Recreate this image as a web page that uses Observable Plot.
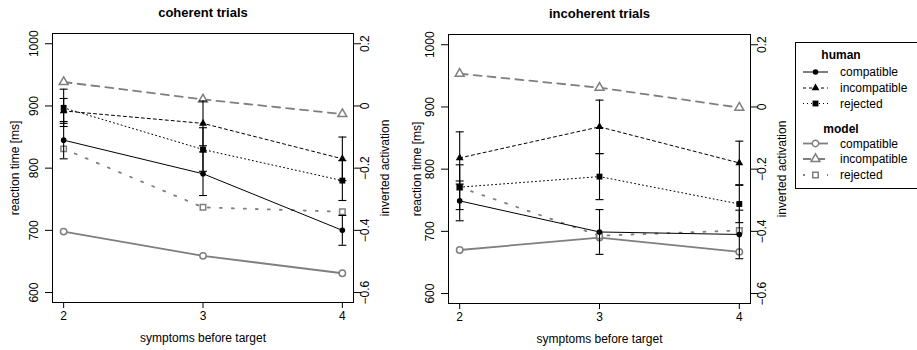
<!DOCTYPE html>
<html><head><meta charset="utf-8">
<script src="https://cdn.jsdelivr.net/npm/d3@7"></script>
<script src="https://cdn.jsdelivr.net/npm/@observablehq/plot@0.6"></script>
<style>
body{margin:0;background:#fff;}
#chart{position:relative;width:917px;height:350px;overflow:hidden;font-family:"Liberation Sans",Arial,Helvetica,sans-serif;}
#chart > svg{position:absolute;top:0;}
</style></head><body><div id="chart"></div>
<script>
// ---------- data ----------
const symptoms = [2, 3, 4];
const conditions = ["compatible", "incompatible", "rejected"];
const panelTitles = ["coherent trials", "incoherent trials"];
const rtTicks = [600, 700, 800, 900, 1000];
const actTicks = [-0.6, -0.4, -0.2, 0, 0.2];

// human reaction times [ms] and error half-widths, coherent trials
const cohHumanCompatible   = [845, 791, 700];
const cohHumanIncompatible = [892, 872, 815];
const cohHumanRejected     = [897, 830, 780];
const cohErrCompatible     = [30, 35, 24];
const cohErrIncompatible   = [20, 36, 35];
const cohErrRejected       = [30, 35, 32];
// model inverted activation, coherent trials
const cohModelCompatible   = [-0.404, -0.482, -0.538];
const cohModelIncompatible = [0.077, 0.021, -0.026];
const cohModelRejected     = [-0.138, -0.326, -0.340];

// incoherent trials
const incHumanCompatible   = [749, 699, 695];
const incHumanIncompatible = [818, 868, 810];
const incHumanRejected     = [771, 788, 744];
const incErrCompatible     = [32, 36, 39];
const incErrIncompatible   = [42, 43, 35];
const incErrRejected       = [36, 37, 30];
const incModelCompatible   = [-0.460, -0.420, -0.466];
const incModelIncompatible = [0.107, 0.062, -0.002];
const incModelRejected     = [-0.258, -0.414, -0.397];

// ---------- styles ----------
const GRAY = "#7f7f7f";
const humanStyle = [
  {dash: null, symbol: "circle", r: 2.8},
  {dash: "3,3", symbol: "triangle", r: 2.9},
  {dash: "1,3", symbol: "square", r: 3.3}
];
const modelStyle = [
  {dash: null, symbol: "circle", r: 3.2},
  {dash: "8,6", symbol: "triangle", r: 3.3},
  {dash: "2,10", symbol: "square", r: 3.1}
];

// secondary axis: inverted activation -> reaction-time scale
const act2rt = d3.scaleLinear().domain([-0.6, 0.2]).range([600, 1000]);
const fmtAct = a => a === 0 ? "0" : (a < 0 ? "\u2212" : "") + Math.abs(a).toFixed(1);

const capSymbol = {draw(ctx, size) { const w = Math.sqrt(size / Math.PI); ctx.moveTo(-w, 0); ctx.lineTo(w, 0); }};

function panel(cfg) {
  const marks = [Plot.frame({stroke: "black", strokeWidth: 1})];
  // model lines + markers
  cfg.model.forEach((vals, i) => {
    const data = symptoms.map((s, j) => ({s, v: act2rt(vals[j])}));
    marks.push(Plot.line(data, {x: "s", y: "v", stroke: GRAY, strokeWidth: 1.8, strokeDasharray: modelStyle[i].dash}));
  });
  cfg.model.forEach((vals, i) => {
    const data = symptoms.map((s, j) => ({s, v: act2rt(vals[j])}));
    marks.push(Plot.dot(data, {x: "s", y: "v", symbol: modelStyle[i].symbol, r: modelStyle[i].r, fill: "white", stroke: GRAY, strokeWidth: 1.5}));
  });
  // human lines
  cfg.human.forEach((vals, i) => {
    const data = symptoms.map((s, j) => ({s, v: vals[j]}));
    marks.push(Plot.line(data, {x: "s", y: "v", stroke: "black", strokeWidth: 1, strokeDasharray: humanStyle[i].dash}));
  });
  // error bars
  cfg.human.forEach((vals, i) => {
    const data = symptoms.map((s, j) => ({s, lo: vals[j] - cfg.err[i][j], hi: vals[j] + cfg.err[i][j]}));
    marks.push(Plot.ruleX(data, {x: "s", y1: "lo", y2: "hi", stroke: "black", strokeWidth: 1.1}));
    const caps = data.flatMap(d => [{s: d.s, v: d.lo}, {s: d.s, v: d.hi}]);
    marks.push(Plot.dot(caps, {x: "s", y: "v", symbol: capSymbol, r: 4, stroke: "black", strokeWidth: 1.1, fill: "none"}));
  });
  // human markers
  cfg.human.forEach((vals, i) => {
    const data = symptoms.map((s, j) => ({s, v: vals[j]}));
    marks.push(Plot.dot(data, {x: "s", y: "v", symbol: humanStyle[i].symbol, r: humanStyle[i].r, fill: "black", stroke: "none"}));
  });
  // axes
  marks.push(
    Plot.axisX({ticks: symptoms, tickSize: 6, tickPadding: 3, tickFormat: d => String(d), label: null, fontSize: 12, fill: "black"}),
    Plot.axisY({anchor: "left", ticks: rtTicks, tickSize: 7, tickFormat: () => "", label: null}),
    Plot.axisY({anchor: "right", ticks: actTicks.map(a => act2rt(a)), tickSize: 7, tickFormat: () => "", label: null}),
    Plot.text(rtTicks, {y: d => d, text: d => String(d), frameAnchor: "left", dx: -18, rotate: -90, textAnchor: "middle", lineAnchor: "middle", fontSize: 12, fill: "black"}),
    Plot.text(actTicks, {y: d => act2rt(d), text: d => fmtAct(d), frameAnchor: "right", dx: 12, rotate: -90, textAnchor: "middle", lineAnchor: "middle", fontSize: 12, fill: "black"}),
    Plot.text(["reaction time [ms]"], {frameAnchor: "left", dx: cfg.ylabDx, rotate: -90, textAnchor: "middle", lineAnchor: "middle", fontSize: 12, fill: "black"}),
    Plot.text(["inverted activation"], {frameAnchor: "right", dx: 32, rotate: -90, textAnchor: "middle", lineAnchor: "middle", fontSize: 12, fill: "black"}),
    Plot.text(["symptoms before target"], {frameAnchor: "bottom", dy: 36, lineAnchor: "middle", fontSize: 12, fill: "black"}),
    Plot.text([cfg.title], {frameAnchor: "top", dy: -20.5, lineAnchor: "middle", fontSize: 13, fontWeight: "bold", fill: "black"})
  );
  const svg = Plot.plot({
    width: 400, height: 350,
    marginLeft: 52, marginRight: cfg.marginRight, marginTop: cfg.marginTop, marginBottom: 350 - 302 - (cfg.marginTop - 33),
    x: {type: "linear", domain: [1.92, 4.08], axis: null},
    y: {type: "linear", domain: [584, 1016.5], axis: null},
    style: {fontFamily: '"Liberation Sans", Arial, Helvetica, sans-serif', fontSize: "12px", background: "transparent", color: "black", overflow: "visible"},
    marks
  });
  svg.style.left = cfg.left + "px";
  return svg;
}

const chart = document.getElementById("chart");
chart.appendChild(panel({
  title: panelTitles[0], left: 0, marginRight: 47, marginTop: 33, ylabDx: -37,
  human: [cohHumanCompatible, cohHumanIncompatible, cohHumanRejected],
  err: [cohErrCompatible, cohErrIncompatible, cohErrRejected],
  model: [cohModelCompatible, cohModelIncompatible, cohModelRejected]
}));
chart.appendChild(panel({
  title: panelTitles[1], left: 396, marginRight: 46, marginTop: 34, ylabDx: -31,
  human: [incHumanCompatible, incHumanIncompatible, incHumanRejected],
  err: [incErrCompatible, incErrIncompatible, incErrRejected],
  model: [incModelCompatible, incModelIncompatible, incModelRejected]
}));

// ---------- legend ----------
const legendGroups = ["human", "model"];
const lg = d3.select(chart).append("svg").attr("width", 917).attr("height", 350).style("left", "0px")
  .style("font-family", '"Liberation Sans", Arial, Helvetica, sans-serif').style("font-size", "12px");
lg.append("rect").attr("x", 795.5).attr("y", 42.5).attr("width", 140).attr("height", 146).attr("fill", "none").attr("stroke", "black");
const headerY = [55, 129];
const rowY = [[72, 88, 103.5], [143.5, 159, 175]];
legendGroups.forEach((g, gi) => {
  lg.append("text").attr("x", 841).attr("y", headerY[gi]).attr("dy", "0.35em").attr("text-anchor", "middle")
    .attr("font-weight", "bold").text(g);
  conditions.forEach((c, i) => {
    const y = rowY[gi][i];
    const st = gi === 0 ? humanStyle[i] : modelStyle[i];
    const col = gi === 0 ? "black" : GRAY;
    lg.append("line").attr("x1", 803).attr("x2", 828).attr("y1", y).attr("y2", y)
      .attr("stroke", col).attr("stroke-width", gi === 0 ? 1 : 1.8).attr("stroke-dasharray", st.dash);
    const sym = {circle: d3.symbolCircle, triangle: d3.symbolTriangle, square: d3.symbolSquare}[st.symbol];
    lg.append("path").attr("transform", `translate(815.5,${y})`)
      .attr("d", d3.symbol(sym, st.r * st.r * Math.PI)())
      .attr("fill", gi === 0 ? "black" : "white").attr("stroke", gi === 0 ? "none" : GRAY).attr("stroke-width", 1.5);
    lg.append("text").attr("x", 840).attr("y", y).attr("dy", "0.35em").text(c);
  });
});
</script>
</body></html>
